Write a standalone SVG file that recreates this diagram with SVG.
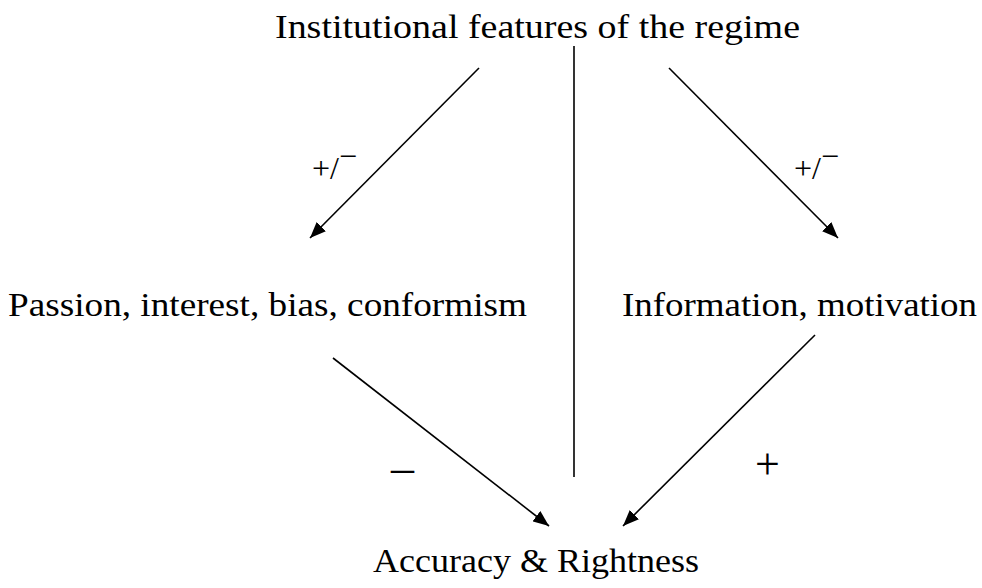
<svg xmlns="http://www.w3.org/2000/svg" width="982" height="588" viewBox="0 0 982 588">
<defs>
<style>
.t{font-family:'Liberation Serif','Times New Roman',serif;font-size:34px;fill:#000}
.c{stroke:#000;stroke-width:1.6;fill:none}
</style>
<marker id="ah" markerWidth="16" markerHeight="13" refX="16" refY="6.5" orient="auto" markerUnits="userSpaceOnUse" viewBox="0 0 16 13">
<path d="M0,0 L16,6.5 L0,13 Z" fill="#000"/>
</marker>
</defs>
<rect width="982" height="588" fill="#fff"/>
<g id="node-institutional"><text class="t" x="275" y="38" textLength="525" lengthAdjust="spacingAndGlyphs">Institutional features of the regime</text></g>
<g id="node-passion"><text class="t" x="8" y="316" textLength="519" lengthAdjust="spacingAndGlyphs">Passion, interest, bias, conformism</text></g>
<g id="node-information"><text class="t" x="622" y="316" textLength="355" lengthAdjust="spacingAndGlyphs">Information, motivation</text></g>
<g id="node-accuracy"><text class="t" x="373" y="572" textLength="326" lengthAdjust="spacingAndGlyphs">Accuracy &amp; Rightness</text></g>
<g id="connectors">
<line class="c" x1="574" y1="46" x2="574" y2="477"/>
<line class="c" x1="479" y1="68" x2="310" y2="238" marker-end="url(#ah)"/>
<line class="c" x1="669" y1="68" x2="838" y2="238" marker-end="url(#ah)"/>
<line class="c" x1="333" y1="358" x2="549" y2="526" marker-end="url(#ah)"/>
<line class="c" x1="815" y1="335" x2="623" y2="526" marker-end="url(#ah)"/>
</g>
<g id="labels" font-family="Liberation Serif, Times New Roman, serif" fill="#000">
<text font-size="32" x="312" y="179">+/<tspan dy="-12">−</tspan></text>
<text font-size="32" x="794" y="179">+/<tspan dy="-12">−</tspan></text>
<text font-size="46" x="391" y="483">–</text>
<text font-size="44" x="755" y="479">+</text>
</g>
</svg>
